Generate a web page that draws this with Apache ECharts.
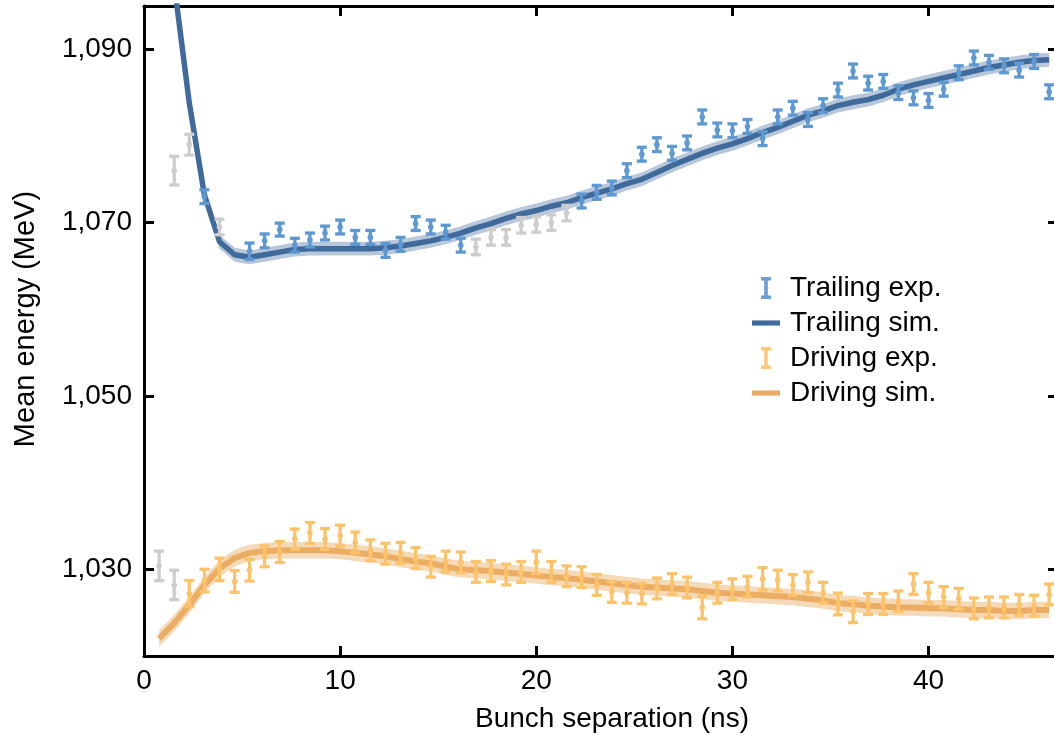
<!DOCTYPE html>
<html><head><meta charset="utf-8">
<script src="https://cdn.jsdelivr.net/npm/echarts@6/dist/echarts.min.js"></script>
<style>html,body{margin:0;padding:0;background:#fff}#c{width:1054px;height:737px}</style>
</head><body><div id="c"></div>
<script>
// Bunch separation (ns)
const separation = [0.77,1.54,2.31,3.08,3.85,4.62,5.38,6.15,6.92,7.69,
 8.46,9.23,10.00,10.77,11.54,12.31,13.08,13.85,14.62,15.38,
 16.15,16.92,17.69,18.46,19.23,20.00,20.77,21.54,22.31,23.08,
 23.85,24.62,25.38,26.15,26.92,27.69,28.46,29.23,30.00,30.77,
 31.54,32.31,33.08,33.85,34.62,35.38,36.15,36.92,37.69,38.46,
 39.23,40.00,40.77,41.54,42.31,43.08,43.85,44.62,45.38,46.15];

// Trailing bunch, experiment (used points)
const trailingExp = [null,null,null,1073.0,null,null,1066.7,1067.9,1069.2,1067.4,
 1068.0,1068.8,1069.5,1068.3,1068.3,1066.8,1067.5,1069.9,1069.5,1068.9,
 1067.4,null,null,null,null,null,null,null,1072.5,1073.5,
 1074.0,1076.0,1077.9,1079.0,1078.0,1079.2,1082.2,1080.7,1080.6,1081.1,
 1079.7,1082.2,1083.2,1081.9,1083.5,1085.3,1087.5,1086.1,1086.3,1085.0,
 1084.4,1084.1,1085.4,1087.3,1089.0,1088.5,1088.1,1087.6,1088.6,1085.1];
// Trailing bunch, experiment (excluded, grey)
const trailingExcluded = [null,1076.0,1079.0,null,1069.5,null,null,null,null,null,
 null,null,null,null,null,null,null,null,null,null,
 null,1067.2,1068.3,1068.3,1069.7,1069.8,1070.0,1071.1,null,null,
 null,null,null,null,null,null,null,null,null,null,
 null,null,null,null,null,null,null,null,null,null,
 null,null,null,null,null,null,null,null,null,null];
const trailingErr = [null,1.65,1.2,0.8,0.9,0.8,0.95,0.8,0.75,0.8,
 0.8,0.8,0.8,0.8,0.8,0.8,0.8,0.8,0.8,0.8,
 0.8,0.9,0.9,0.9,0.9,0.9,0.9,0.9,0.8,0.8,
 0.8,0.8,0.8,0.8,0.8,0.8,0.8,0.8,0.8,0.8,
 0.8,0.8,0.8,0.8,0.8,0.8,0.8,0.8,0.8,0.8,
 0.8,0.8,0.8,0.8,0.8,0.8,0.8,0.8,0.8,0.8];
// Trailing bunch, simulation
const trailingSim = [null,1097.5,1083.8,1073.2,1067.8,1066.3,1066.0,1066.3,1066.6,1066.9,
 1067.0,1067.0,1067.0,1067.0,1067.0,1067.1,1067.3,1067.6,1067.9,1068.3,
 1068.8,1069.4,1069.9,1070.5,1071.0,1071.4,1071.9,1072.3,1072.9,1073.4,
 1073.9,1074.5,1075.0,1075.8,1076.6,1077.3,1078.0,1078.6,1079.1,1079.7,
 1080.4,1081.0,1081.7,1082.4,1082.9,1083.5,1083.9,1084.2,1084.7,1085.4,
 1085.9,1086.3,1086.7,1087.1,1087.5,1087.9,1088.2,1088.5,1088.7,1088.8];
const trailingSimBand = 0.8;

// Driving bunch, experiment
const drivingExp = [null,null,1027.2,1028.7,1030.0,1028.6,1029.9,1031.5,1032.0,1033.5,
 1034.2,1033.5,1033.9,1033.1,1032.2,1031.8,1031.9,1031.3,1030.3,1030.9,
 1030.8,1029.7,1029.8,1029.4,1029.7,1030.8,1029.7,1029.2,1029.1,1028.2,
 1027.4,1027.3,1027.2,1027.8,1028.3,1027.9,1025.6,1027.3,1027.7,1028.0,
 1028.9,1028.7,1028.2,1028.5,1027.3,1026.0,1025.1,1026.0,1026.0,1026.3,
 1028.3,1027.3,1026.8,1026.6,1025.5,1025.6,1025.6,1025.9,1025.8,1027.1];
const drivingExcluded = [1030.4,1028.2,null,null,null,null,null,null,null,null,
 null,null,null,null,null,null,null,null,null,null,
 null,null,null,null,null,null,null,null,null,null,
 null,null,null,null,null,null,null,null,null,null,
 null,null,null,null,null,null,null,null,null,null,
 null,null,null,null,null,null,null,null,null,null];
const drivingErr = [1.7,1.7,1.5,1.3,1.3,1.25,1.25,1.2,1.2,1.15,
 1.2,1.2,1.2,1.2,1.2,1.2,1.2,1.2,1.2,1.2,
 1.2,1.2,1.2,1.2,1.2,1.3,1.2,1.2,1.2,1.2,
 1.2,1.2,1.2,1.2,1.2,1.2,1.3,1.2,1.2,1.2,
 1.3,1.2,1.2,1.2,1.2,1.25,1.25,1.2,1.2,1.2,
 1.2,1.2,1.2,1.2,1.2,1.2,1.2,1.2,1.2,1.2];
// Driving bunch, simulation
const drivingSim = [1022.0,1023.8,1025.9,1028.2,1030.1,1031.3,1031.9,1032.1,1032.2,1032.2,
 1032.2,1032.2,1032.1,1031.9,1031.7,1031.5,1031.2,1030.9,1030.7,1030.3,
 1030.0,1029.9,1029.8,1029.6,1029.5,1029.3,1029.1,1029.0,1028.8,1028.6,
 1028.4,1028.2,1028.0,1027.9,1027.8,1027.7,1027.5,1027.3,1027.2,1027.1,
 1027.0,1026.9,1026.8,1026.6,1026.4,1026.1,1026.0,1025.8,1025.7,1025.6,
 1025.6,1025.5,1025.5,1025.4,1025.3,1025.3,1025.2,1025.2,1025.3,1025.3];
const drivingSimBand = 0.95;

const yTicks = [1030, 1050, 1070, 1090];
const xTicks = [0, 10, 20, 30, 40];

const FONT = '"Liberation Sans", Arial, Helvetica, sans-serif';
const C_TEXP = '#5e98d2', C_TSIM = '#3f6a9b', C_TBAND = '#b0c1d5';
const C_DEXP = '#fdc36b', C_DSIM = '#ebad64', C_DBAND = '#f4d6b2';
const C_GREY = '#cdcdcd';

function pts(vals, errs) {
  const out = [];
  vals.forEach((v, i) => { if (v != null) out.push([separation[i], v, errs[i]]); });
  return out;
}
function linePts(vals) {
  const out = [];
  vals.forEach((v, i) => { if (v != null) out.push([separation[i], v]); });
  return out;
}
function errRender(color, capW) {
  return function (params, api) {
    const x = api.value(0), y = api.value(1), e = api.value(2);
    const t = api.coord([x, y + e]), b = api.coord([x, y - e]), m = api.coord([x, y]);
    const st = { stroke: color, lineWidth: 3.3, fill: null };
    return {
      type: 'group',
      children: [
        { type: 'line', shape: { x1: m[0], y1: t[1], x2: m[0], y2: b[1] }, style: st },
        { type: 'line', shape: { x1: m[0] - capW / 2, y1: t[1], x2: m[0] + capW / 2, y2: t[1] }, style: st },
        { type: 'line', shape: { x1: m[0] - capW / 2, y1: b[1], x2: m[0] + capW / 2, y2: b[1] }, style: st },
        { type: 'circle', shape: { cx: m[0], cy: m[1], r: 2.8 }, style: { fill: color } }
      ]
    };
  };
}
function bandRender(vals, half, color) {
  return function (params, api) {
    if (params.dataIndex !== 0) return null;
    const up = [], lo = [];
    vals.forEach((v, i) => {
      if (v == null) return;
      up.push(api.coord([separation[i], v + half]));
      lo.push(api.coord([separation[i], v - half]));
    });
    const cs = params.coordSys;
    return {
      type: 'polygon',
      shape: { points: up.concat(lo.reverse()) },
      style: { fill: color, opacity: 0.9 },
      clipPath: { type: 'rect', shape: { x: cs.x, y: cs.y, width: cs.width, height: cs.height } }
    };
  };
}
const fmt = v => String(v).replace(/\B(?=(\d{3})+(?!\d))/g, ',');

const ibeam = 'path://M0,0 H10 V3.6 H6.8 V18.4 H10 V22 H0 V18.4 H3.2 V3.6 H0 Z';
const bar = 'path://M0,0 H27 V5 H0 Z';

const chart = echarts.init(document.getElementById('c'), null, { renderer: 'canvas' });
chart.setOption({
  animation: false,
  backgroundColor: '#fff',
  textStyle: { fontFamily: FONT },
  grid: { left: 144, top: 6, width: 914, height: 650, containLabel: false, outerBoundsMode: 'none' },
  legend: {
    orient: 'vertical', left: 752, top: 274, padding: 0, itemGap: 7,
    itemWidth: 28, itemHeight: 22, symbolKeepAspect: true,
    formatter: '{t|{name}}',
    textStyle: { fontFamily: FONT, fontSize: 28, color: '#000', lineHeight: 28,
      rich: { t: { fontFamily: FONT, fontSize: 28, color: '#000', lineHeight: 28, padding: [0, 0, 0, 5] } } },
    data: [
      { name: 'Trailing exp.', icon: ibeam },
      { name: 'Trailing sim.', icon: bar },
      { name: 'Driving exp.', icon: ibeam },
      { name: 'Driving sim.', icon: bar }
    ]
  },
  xAxis: [{
    type: 'value', min: 0, max: 46.6, position: 'bottom',
    name: 'Bunch separation (ns)', nameLocation: 'middle', nameGap: 49,
    nameTextStyle: { fontFamily: FONT, fontSize: 28, color: '#000', padding: [0, 0, 0, 22] },
    axisLine: { show: true, onZero: false, lineStyle: { color: '#000', width: 3 } },
    axisTick: { show: true, inside: true, length: 10, lineStyle: { color: '#000', width: 3 }, customValues: xTicks },
    axisLabel: { show: true, margin: 11, fontFamily: FONT, fontSize: 28, color: '#000', customValues: xTicks },
    splitLine: { show: false }
  }, {
    type: 'value', min: 0, max: 46.6, position: 'top',
    axisLine: { show: true, onZero: false, lineStyle: { color: '#000', width: 3 } },
    axisTick: { show: true, inside: true, length: 10, lineStyle: { color: '#000', width: 3 }, customValues: xTicks },
    axisLabel: { show: false },
    splitLine: { show: false }
  }],
  yAxis: [{
    type: 'value', min: 1020, max: 1095, position: 'left',
    name: 'Mean energy (MeV)', nameLocation: 'middle', nameGap: 104,
    nameTextStyle: { fontFamily: FONT, fontSize: 29, color: '#000', padding: [0, 0, 0, 24] },
    axisLine: { show: true, onZero: false, lineStyle: { color: '#000', width: 3 } },
    axisTick: { show: true, inside: true, length: 10, lineStyle: { color: '#000', width: 3 }, customValues: yTicks },
    axisLabel: { show: true, margin: 12, fontFamily: FONT, fontSize: 28, color: '#000', customValues: yTicks, formatter: fmt },
    splitLine: { show: false }
  }, {
    type: 'value', min: 1020, max: 1095, position: 'right',
    axisLine: { show: true, onZero: false, lineStyle: { color: '#000', width: 3 } },
    axisTick: { show: true, inside: true, length: 10, lineStyle: { color: '#000', width: 3 }, customValues: yTicks },
    axisLabel: { show: false },
    splitLine: { show: false }
  }],
  series: [
    { name: 'Trailing band', type: 'custom', renderItem: bandRender(trailingSim, trailingSimBand, C_TBAND),
      data: [[0, 1050]], z: 1, silent: true },
    { name: 'Driving band', type: 'custom', renderItem: bandRender(drivingSim, drivingSimBand, C_DBAND),
      data: [[0, 1050]], z: 1, silent: true },
    { name: 'Trailing sim.', type: 'line', data: linePts(trailingSim), showSymbol: false, clip: true,
      itemStyle: { color: C_TSIM }, lineStyle: { color: C_TSIM, width: 5.5 }, z: 2 },
    { name: 'Driving sim.', type: 'line', data: linePts(drivingSim), showSymbol: false, clip: true,
      itemStyle: { color: C_DSIM }, lineStyle: { color: C_DSIM, width: 6 }, z: 2 },
    { name: 'Excluded', type: 'custom', renderItem: errRender(C_GREY, 10), clip: true,
      data: pts(trailingExcluded, trailingErr).concat(pts(drivingExcluded, drivingErr)), z: 3,
      itemStyle: { color: C_GREY }, encode: { x: 0, y: 1 } },
    { name: 'Trailing exp.', type: 'custom', renderItem: errRender(C_TEXP, 10), clip: true,
      data: pts(trailingExp, trailingErr), z: 3, itemStyle: { color: C_TEXP, opacity: 0.92 }, encode: { x: 0, y: 1 } },
    { name: 'Driving exp.', type: 'custom', renderItem: errRender(C_DEXP, 10), clip: true,
      data: pts(drivingExp, drivingErr), z: 3, itemStyle: { color: C_DEXP, opacity: 0.92 }, encode: { x: 0, y: 1 } }
  ]
});
</script></body></html>
